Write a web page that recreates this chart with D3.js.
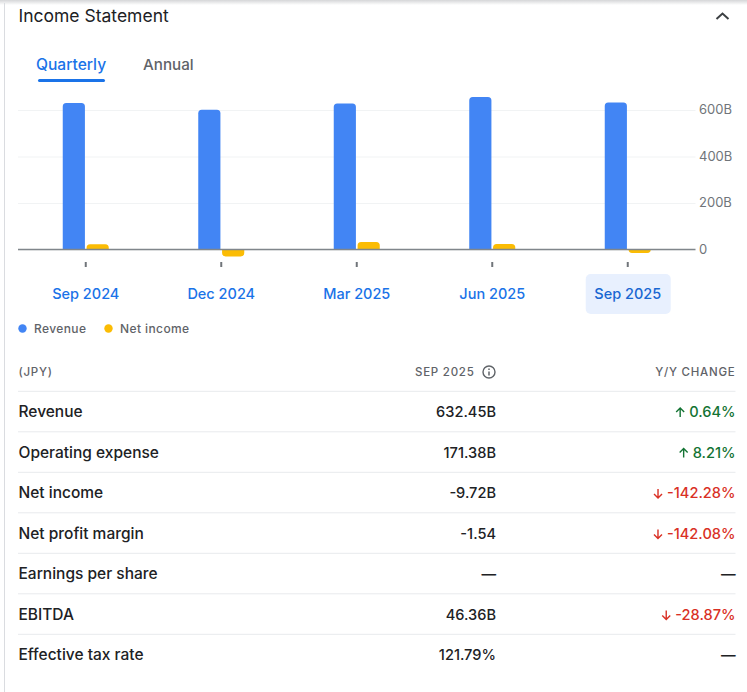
<!DOCTYPE html>
<html>
<head>
<meta charset="utf-8">
<title>Income Statement</title>
<script src="https://cdn.jsdelivr.net/npm/d3@7"></script>
<style>
  html, body { margin: 0; padding: 0; background: #fff; }
  svg { display: block; font-family: Inter, Roboto, sans-serif; }
  .tick text { font-family: Inter, Roboto, sans-serif; }
</style>
</head>
<body>
<svg id="chart" width="747" height="692"></svg>
<script>
// Chart data, in billions of JPY
const quarters = ["Sep 2024", "Dec 2024", "Mar 2025", "Jun 2025", "Sep 2025"];
const revenue = [630, 601, 628, 656, 632.45];
const netIncome = [23, -30, 32, 24, -15];
const yTicks = [0, 200, 400, 600];
const seriesNames = ["Revenue", "Net income"];
const seriesColors = ["#4285f4", "#fbbc04"];

// Table data
const rowLabels = ["Revenue", "Operating expense", "Net income", "Net profit margin", "Earnings per share", "EBITDA", "Effective tax rate"];
const rowValues = ["632.45B", "171.38B", "-9.72B", "-1.54", "—", "46.36B", "121.79%"];
const rowChanges = ["0.64%", "8.21%", "-142.28%", "-142.08%", "—", "-28.87%", "—"];
const rowDirections = ["up", "up", "down", "down", "", "down", ""];

const svg = d3.select("#chart");
const [left, right, zeroY, sixHundredY] = [18, 695.5, 249.5, 110];
const [blue, darkBlue, grey, textColor] = ["#1a73e8", "#1967d2", "#5f6368", "#202124"];

// Page frame
const defs = svg.append("defs");
const shade = defs.append("linearGradient").attr("id", "shade").attr("x2", 0).attr("y2", 1);
shade.append("stop").attr("offset", 0).attr("stop-color", "#d5d6d8");
shade.append("stop").attr("offset", 1).attr("stop-color", "#ffffff");
svg.append("rect").attr("width", 747).attr("height", 5).attr("fill", "url(#shade)");
svg.append("rect").attr("x", 4).attr("y", 3).attr("width", 1).attr("height", 689).attr("fill", "#dadce0");

// Heading and tabs
svg.append("text").attr("x", 18.5).attr("y", 22).attr("font-size", 17.5).attr("fill", textColor).text("Income Statement");
svg.append("path").attr("d", "M716.5 19 L722.5 13.5 L728.5 19").attr("fill", "none").attr("stroke", "#3c4043").attr("stroke-width", 2);
svg.append("text").attr("x", 36).attr("y", 70).attr("font-size", 15.6).attr("font-weight", 500).attr("fill", blue).text("Quarterly");
svg.append("text").attr("x", 143).attr("y", 70).attr("font-size", 15.2).attr("font-weight", 500).attr("fill", grey).text("Annual");
svg.append("rect").attr("x", 38).attr("y", 79).attr("width", 67).attr("height", 3).attr("rx", 1.5).attr("fill", blue);

// Scales
const x = d3.scaleBand().domain(quarters).range([left, right]);
const xInner = d3.scaleBand().domain(seriesNames).range([-23, 23]).paddingInner(0.07);
const y = d3.scaleLinear().domain([0, 600]).range([zeroY, sixHundredY]);

// Selected quarter highlight sits under the axis labels
const lastCenter = x(quarters[4]) + x.bandwidth() / 2;
svg.append("rect").attr("x", lastCenter - 42).attr("y", 274).attr("width", 85).attr("height", 40).attr("rx", 5).attr("fill", "#e8f0fe");

// Y axis with gridlines
const yAxis = d3.axisRight(y).tickValues(yTicks).tickSize(right - left).tickPadding(3.5)
  .tickFormat(d => d === 0 ? "0" : d + "B");
const yGroup = svg.append("g").attr("transform", `translate(${left},0)`).call(yAxis);
yGroup.select(".domain").remove();
yGroup.selectAll("line").attr("stroke", "#f1f3f4");
yGroup.selectAll("text").attr("font-size", 13).attr("fill", "#70757a").attr("dy", "0.3em");

// Bars, rounded on the end away from zero
function barPath(cx, value) {
  const w = xInner.bandwidth();
  const r = 3.5;
  const x0 = cx;
  const x1 = cx + w;
  const y0 = y(0);
  const y1 = y(value);
  const s = value >= 0 ? 1 : -1;
  const rr = Math.min(r, Math.abs(y0 - y1));
  const sweep = value >= 0 ? 1 : 0;
  return `M${x0} ${y0} V${y1 + s * rr} A${rr} ${rr} 0 0 ${sweep} ${x0 + rr} ${y1} H${x1 - rr} A${rr} ${rr} 0 0 ${sweep} ${x1} ${y1 + s * rr} V${y0} Z`;
}

[revenue, netIncome].forEach((values, i) => {
  svg.append("g").selectAll("path").
  data(values).
  enter().
  append("path").
  attr("d", (d, j) => barPath(x(quarters[j]) + x.bandwidth() / 2 + xInner(seriesNames[i]), d)).
  attr("fill", seriesColors[i]);
});

// Zero line
svg.append("line").attr("x1", left).attr("x2", right).attr("y1", y(0)).attr("y2", y(0)).attr("stroke", "#80868b").attr("stroke-width", 1.5);

// X axis
const xAxis = d3.axisBottom(x).tickSize(5).tickPadding(22);
const xGroup = svg.append("g").attr("transform", "translate(0,262)").call(xAxis);
xGroup.select(".domain").remove();
xGroup.selectAll("line").attr("stroke", "#70757a").attr("stroke-width", 2);
xGroup.selectAll("text").attr("font-size", 14.5).attr("font-weight", 500)
  .attr("fill", d => d === quarters[4] ? darkBlue : blue);

// Legend
const legendDots = [22.5, 108.5];
const legendTexts = [34, 120];
seriesNames.forEach((name, i) => {
  svg.append("circle").attr("cx", legendDots[i]).attr("cy", 328.5).attr("r", 4.2).attr("fill", seriesColors[i]);
  svg.append("text").attr("x", legendTexts[i]).attr("y", 333).attr("font-size", 12).attr("font-weight", 500)
    .attr("letter-spacing", 0.4).attr("fill", grey).text(name);
});

// Table header
const headerStyle = sel => sel.attr("y", 375.5).attr("font-size", 11.5).attr("font-weight", 500).attr("letter-spacing", 0.75).attr("fill", grey);
svg.append("text").attr("x", 18.5).call(headerStyle).text("(JPY)");
svg.append("text").attr("x", 474.5).attr("text-anchor", "end").call(headerStyle).text("SEP 2025");
svg.append("text").attr("x", 735.5).attr("text-anchor", "end").call(headerStyle).text("Y/Y CHANGE");
const info = svg.append("g").attr("transform", "translate(489,372)").attr("fill", "none").attr("stroke", grey);
info.append("circle").attr("r", 6).attr("stroke-width", 1.4);
info.append("path").attr("d", "M0 -0.5 V3.5").attr("stroke-width", 1.5);
info.append("path").attr("d", "M0 -3.4 V-2").attr("stroke-width", 1.5);

// Table rows
const rowY = d3.scaleBand().domain(rowLabels).range([391.3, 391.3 + 40.5 * 7]);
const changeColors = { up: "#137333", down: "#d93025", "": textColor };
rowLabels.forEach((label, i) => {
  const top = rowY(label);
  const base = top + rowY.bandwidth() / 2 + 5.5;
  svg.append("line").attr("x1", left).attr("x2", 735.5).attr("y1", top).attr("y2", top).attr("stroke", "#e8eaed");
  svg.append("text").attr("x", 18.5).attr("y", base).attr("font-size", 15.5).attr("font-weight", 500).attr("fill", textColor).text(label);
  svg.append("text").attr("x", 496).attr("y", base).attr("text-anchor", "end").attr("font-size", 14.6).attr("font-weight", 500).attr("fill", textColor).text(rowValues[i]);
  const change = svg.append("text").attr("x", 735.5).attr("y", base).attr("text-anchor", "end").attr("font-size", 14.6).attr("font-weight", 500)
    .attr("fill", changeColors[rowDirections[i]]).text(rowChanges[i]);
  if (rowDirections[i]) {
    const ax = 735.5 - change.node().getComputedTextLength() - 9;
    const d = rowDirections[i] === "up"
      ? `M${ax} ${base} V${base - 9} M${ax - 4} ${base - 5} L${ax} ${base - 9} L${ax + 4} ${base - 5}`
      : `M${ax} ${base - 9} V${base} M${ax - 4} ${base - 4} L${ax} ${base} L${ax + 4} ${base - 4}`;
    svg.append("path").attr("d", d).attr("fill", "none").attr("stroke", changeColors[rowDirections[i]]).attr("stroke-width", 1.4);
  }
});
</script>
</body>
</html>
